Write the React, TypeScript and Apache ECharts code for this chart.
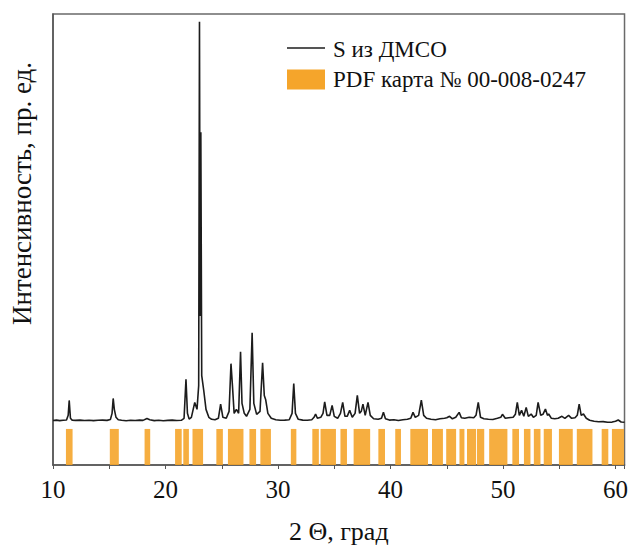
import React, { useEffect, useRef } from "react";
import * as echarts from "echarts";

// Measured XRD pattern: 2θ (deg) and intensity (arb. units)
const twoTheta: number[] = [
  10.0, 10.3, 10.6, 10.9, 11.2, 11.35, 11.44, 11.55, 11.7, 12.0, 12.4, 12.8, 13.2, 13.6, 14.0, 14.4, 14.8,
  15.1, 15.25, 15.35, 15.45, 15.6, 15.8, 16.1, 16.5, 16.9, 17.3, 17.7, 18.0, 18.35, 18.6, 19.0, 19.4, 19.8,
  20.2, 20.6, 21.0, 21.4, 21.65, 21.82, 21.95, 22.1, 22.3, 22.6, 22.8, 22.95, 23.02, 23.08, 23.14, 23.22,
  23.4, 23.6, 23.85, 24.1, 24.4, 24.7, 24.9, 25.1, 25.4, 25.65, 25.82, 25.95, 26.1, 26.3, 26.5, 26.67,
  26.8, 27.0, 27.2, 27.5, 27.7, 27.85, 28.1, 28.4, 28.63, 28.78, 28.9, 29.1, 29.4, 29.8, 30.2, 30.6, 31.0,
  31.25, 31.4, 31.55, 31.8, 32.2, 32.6, 33.0, 33.2, 33.34, 33.5, 33.8, 34.0, 34.15, 34.35, 34.6, 34.81,
  35.0, 35.3, 35.55, 35.75, 35.95, 36.15, 36.37, 36.6, 36.85, 37.05, 37.25, 37.4, 37.55, 37.75, 38.0,
  38.2, 38.5, 38.9, 39.2, 39.37, 39.55, 39.9, 40.3, 40.7, 41.1, 41.5, 41.8, 42.0, 42.2, 42.5, 42.74, 42.95,
  43.2, 43.6, 44.0, 44.4, 44.8, 45.0, 45.25, 45.5, 45.8, 46.1, 46.3, 46.6, 47.0, 47.4, 47.6, 47.8, 48.0,
  48.3, 48.7, 49.1, 49.5, 49.8, 49.95, 50.2, 50.5, 50.9, 51.1, 51.27, 51.45, 51.65, 51.85, 52.06, 52.25,
  52.5, 52.7, 52.95, 53.12, 53.35, 53.55, 53.77, 53.95, 54.06, 54.3, 54.6, 54.9, 55.24, 55.5, 55.83, 56.1,
  56.4, 56.6, 56.77, 56.95, 57.15, 57.4, 57.7, 58.1, 58.5, 58.9, 59.3, 59.7, 60.0, 60.24, 60.5, 60.8,
];
const intensity: number[] = [
  448, 452, 447, 451, 453, 500, 650, 470, 452, 449, 452, 448, 451, 447, 450, 452, 449,
  458, 520, 670, 560, 480, 455, 450, 446, 451, 448, 452, 449, 468, 455, 447, 450, 445,
  449, 452, 448, 450, 470, 863, 520, 462, 480, 630, 560, 800, 4463, 1500, 3350, 900,
  750, 560, 480, 460, 455, 470, 613, 480, 470, 540, 1020, 800, 520, 560, 520, 1140,
  620, 520, 490, 560, 1330, 620, 510, 540, 1030, 700, 660, 520, 470, 455, 450, 452, 455,
  520, 820, 520, 460, 452, 450, 455, 480, 513, 470, 480, 520, 635, 500, 500, 600,
  490, 470, 520, 630, 490, 490, 550, 480, 520, 700, 520, 540, 613, 500, 630,
  500, 465, 460, 470, 530, 465, 452, 455, 448, 456, 460, 470, 530, 480, 500, 653, 500,
  470, 460, 455, 465, 470, 475, 490, 465, 480, 530, 475, 470, 480, 475, 500, 630, 480,
  465, 460, 458, 470, 480, 510, 470, 475, 480, 510, 630, 500, 550, 490, 580, 490,
  513, 480, 500, 630, 500, 510, 563, 500, 513, 470, 465, 470, 490, 470, 500, 470,
  475, 500, 613, 500, 513, 470, 450, 440, 435, 437, 430, 432, 440, 453, 433, 430,
];

// PDF card 00-008-0247 reflections: 2θ start / end of each drawn stick group
const pdfStart: number[] = [
  11.15, 15.05, 18.14, 20.85, 21.58, 22.4, 24.52, 25.55, 27.46, 28.43, 31.14, 33.05, 33.78,
  35.55, 36.72, 38.92, 40.42, 41.76, 43.69, 44.95, 46.13, 46.8, 47.68, 48.77, 50.83, 51.86,
  52.74, 53.62, 54.97, 56.56, 58.77, 59.68,
];
const pdfEnd: number[] = [
  11.74, 15.85, 18.64, 21.44, 22.08, 23.34, 25.1, 26.93, 28.05, 29.37, 31.63, 33.63, 35.15,
  36.13, 38.19, 39.51, 40.93, 43.33, 44.66, 45.83, 46.57, 47.6, 48.33, 50.39, 51.42, 52.44,
  53.33, 54.35, 56.2, 57.95, 59.36, 60.75,
];
const pdfHeight: number[] = pdfStart.map(() => 363);

const xTicks: number[] = [10, 20, 30, 40, 50, 60];
const seriesNames: string[] = ["S из ДМСО", "PDF карта № 00-008-0247"];

const SERIF = "Liberation Serif";
const ORANGE = "#F5A52B";

export default function App() {
  const ref = useRef<HTMLDivElement>(null);
  useEffect(() => {
    if (!ref.current) return;
    const chart = echarts.init(ref.current, undefined, { renderer: "svg" });
    const lineData = twoTheta.map((t, i) => [t, intensity[i]]);
    const pdfData = pdfStart.map((s, i) => [s, pdfEnd[i], pdfHeight[i]]);
    chart.setOption({
      animation: false,
      backgroundColor: "#ffffff",
      textStyle: { fontFamily: SERIF },
      grid: {
        left: 52,
        right: 3,
        top: 14,
        bottom: 81,
        show: true,
        borderColor: "#6a6a6a",
        borderWidth: 1.5,
        backgroundColor: "transparent",
      },
      legend: {
        show: true,
        orient: "vertical",
        left: 287,
        top: 38,
        padding: 0,
        itemWidth: 38,
        itemHeight: 20,
        itemGap: 7,
        selectedMode: false,
        textStyle: { fontFamily: SERIF, fontSize: 23, color: "#111", padding: [0, 0, 0, 3] },
        data: [
          { name: seriesNames[0], icon: "none" },
          { name: seriesNames[1], icon: "rect" },
        ],
      },
      graphic: [
        {
          type: "line",
          shape: { x1: 287, y1: 48, x2: 325, y2: 48 },
          style: { stroke: "#1c1c1c", lineWidth: 1.5 },
        },
      ],
      xAxis: {
        type: "value",
        min: 10,
        max: 60.8,
        interval: 10,
        name: "2 Θ, град",
        nameLocation: "middle",
        nameGap: 53,
        nameTextStyle: { fontFamily: SERIF, fontSize: 26, color: "#111" },
        axisLine: { show: true, lineStyle: { color: "#555", width: 1.5 } },
        axisTick: { show: true, inside: false, length: 4, lineStyle: { color: "#555" } },
        minorTick: { show: true, splitNumber: 2, length: 4, lineStyle: { color: "#555" } },
        axisLabel: {
          fontFamily: SERIF,
          fontSize: 25,
          color: "#111",
          margin: 12,
          showMaxLabel: false,
          formatter: (v: number) => (xTicks.indexOf(v) >= 0 ? String(v) : ""),
        },
        splitLine: { show: false },
      },
      yAxis: {
        type: "value",
        min: 0,
        max: 4540,
        name: "Интенсивность, пр. ед.",
        nameLocation: "middle",
        nameRotate: 90,
        nameGap: 18,
        nameTextStyle: {
          fontFamily: SERIF,
          fontSize: 27,
          color: "#111",
          padding: [0, 0, 0, 92],
        },
        axisLine: { show: true, lineStyle: { color: "#555", width: 1.5 } },
        axisTick: { show: false },
        axisLabel: { show: false },
        splitLine: { show: false },
      },
      series: [
        {
          type: "custom",
          name: seriesNames[1],
          data: pdfData,
          itemStyle: { color: ORANGE },
          renderItem: (params: any, api: any) => {
            const p0 = api.coord([api.value(0), 0]);
            const p1 = api.coord([api.value(1), api.value(2)]);
            return {
              type: "rect",
              shape: { x: p0[0], y: p1[1], width: p1[0] - p0[0], height: p0[1] - p1[1] },
              style: { fill: ORANGE, opacity: 0.9 },
            };
          },
          z: 1,
        },
        {
          type: "line",
          name: seriesNames[0],
          data: lineData,
          symbol: "none",
          color: "#1c1c1c",
          lineStyle: { color: "#1c1c1c", width: 1.6 },
          z: 3,
        },
      ],
    });
    return () => chart.dispose();
  }, []);
  return (
    <div
      ref={ref}
      style={{ position: "absolute", left: 0, top: 0, width: 631, height: 549 }}
    />
  );
}
